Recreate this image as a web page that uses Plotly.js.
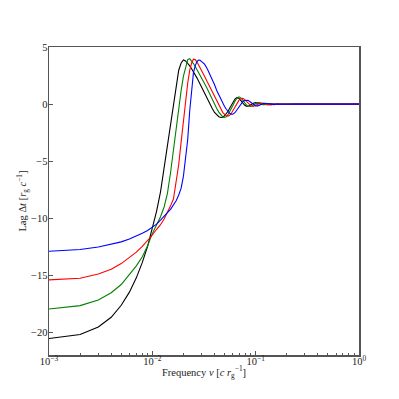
<!DOCTYPE html>
<html>
<head>
<meta charset="utf-8">
<script src="https://cdn.plot.ly/plotly-3.0.1.min.js"></script>
<style>
  html, body { margin: 0; padding: 0; background: #fff; }
  #chart { width: 399px; height: 399px; }
</style>
</head>
<body>
<div id="chart"></div>
<script>
// Lag–frequency spectra, four curves

const freq = [
  0.001, 0.002, 0.003, 0.004, 0.005, 0.006, 0.007, 0.008, 0.009, 0.010,
  0.011, 0.012, 0.013, 0.014, 0.015, 0.016, 0.017, 0.018, 0.019, 0.020,
  0.021, 0.022, 0.023, 0.024, 0.025, 0.026, 0.027, 0.028, 0.029, 0.030,
  0.032, 0.034, 0.036, 0.038, 0.040, 0.042, 0.044, 0.046, 0.048, 0.050,
  0.052, 0.054, 0.056, 0.058, 0.060, 0.063, 0.066, 0.069, 0.072, 0.075,
  0.078, 0.081, 0.084, 0.087, 0.090, 0.095, 0.100, 0.105, 0.110, 0.115,
  0.120, 0.13, 0.14, 0.15, 0.16, 0.18, 0.2, 0.25, 0.3, 0.4,
  0.5, 0.7, 1.0
];

const lagBlack = [
  -20.5, -20.15, -19.5, -18.65, -17.6, -16.45, -15.2, -13.85, -12.45, -10.95,
  -9.36, -7.67, -5.56, -3.55, -1.78, 0.02, 1.65, 2.97, 3.6, 3.86,
  3.78, 3.6, 3.35, 3.1, 2.86, 2.6, 2.3, 2.03, 1.74, 1.48,
  0.97, 0.5, 0.05, -0.38, -0.73, -0.95, -1.1, -1.17, -1.14, -1.02,
  -0.85, -0.62, -0.36, -0.1, 0.15, 0.45, 0.59, 0.5, 0.3, 0.08,
  -0.08, -0.17, -0.18, -0.12, -0.03, 0.08, 0.13, 0.1, 0.03, -0.03,
  -0.05, 0.0, 0.04, 0.0, -0.02, 0.01, 0.0, 0.0, 0.0, 0.0,
  0.0, 0.0, 0.0
];

const lagGreen = [
  -17.92, -17.63, -17.13, -16.5, -15.78, -14.95, -14.15, -13.35, -12.4, -11.33,
  -10.6, -9.85, -9.0, -7.8, -6.0, -3.9, -2.05, -0.3, 1.2, 2.45,
  3.35, 3.9, 3.98, 3.8, 3.55, 3.3, 3.05, 2.8, 2.55, 2.3,
  1.8, 1.35, 0.85, 0.42, 0.0, -0.38, -0.7, -0.95, -1.12, -1.17,
  -1.1, -0.92, -0.68, -0.42, -0.15, 0.25, 0.52, 0.64, 0.55, 0.35,
  0.12, -0.05, -0.17, -0.22, -0.2, -0.08, 0.06, 0.14, 0.12, 0.05,
  -0.02, -0.05, 0.02, 0.03, 0.0, -0.01, 0.0, 0.0, 0.0, 0.0,
  0.0, 0.0, 0.0
];

const lagRed = [
  -15.38, -15.23, -14.87, -14.45, -13.95, -13.45, -12.95, -12.45, -11.95, -11.45,
  -10.95, -10.55, -10.05, -9.5, -8.9, -8.3, -6.9, -5.3, -3.3, -1.45,
  0.35, 1.85, 2.95, 3.6, 3.93, 3.9, 3.7, 3.45, 3.2, 2.95,
  2.45, 1.95, 1.5, 1.05, 0.62, 0.2, -0.15, -0.45, -0.72, -0.9,
  -1.02, -1.05, -0.98, -0.82, -0.6, -0.25, 0.1, 0.35, 0.48, 0.5,
  0.42, 0.28, 0.1, -0.05, -0.15, -0.2, -0.12, 0.0, 0.1, 0.12,
  0.08, -0.05, -0.06, 0.0, 0.04, -0.02, 0.01, 0.0, 0.0, 0.0,
  0.0, 0.0, 0.0
];

const lagBlue = [
  -12.87, -12.72, -12.5, -12.28, -12.05, -11.8, -11.55, -11.3, -11.05, -10.8,
  -10.5, -10.15, -9.85, -9.5, -9.2, -8.85, -8.45, -7.95, -7.35, -6.3,
  -4.9, -3.1, -0.6, 1.5, 2.75, 3.35, 3.72, 3.85, 3.84, 3.72,
  3.5, 3.1, 2.65, 2.2, 1.7, 1.2, 0.8, 0.45, 0.1, -0.2,
  -0.45, -0.65, -0.8, -0.87, -0.88, -0.75, -0.5, -0.2, 0.05, 0.22,
  0.32, 0.35, 0.33, 0.25, 0.14, -0.05, -0.15, -0.15, -0.08, 0.02,
  0.08, 0.05, -0.03, -0.04, 0.0, 0.02, -0.01, 0.0, 0.0, 0.0,
  0.0, 0.0, 0.0
];

const series = [
  { y: lagBlack, color: '#000000' },
  { y: lagGreen, color: '#008000' },
  { y: lagRed, color: '#ff0000' },
  { y: lagBlue, color: '#0000ff' }
];

const xTickVals = [0.001, 0.01, 0.1, 1];
const xTickText = ['10<sup>−3</sup>', '10<sup>−2</sup>', '10<sup>−1</sup>', '10<sup>0</sup>'];
const yTickVals = [5, 0, -5, -10, -15, -20];

// minor log ticks, 2..9 in each decade
const minorVals = [];
[0.001, 0.01, 0.1].forEach(d => {
  for (let k = 2; k <= 9; k++) minorVals.push(k * d);
});

const font = { family: '"Liberation Serif", "DejaVu Serif", serif', size: 10.5, color: '#222222' };
const titleFont = { family: '"Liberation Serif", "DejaVu Serif", serif', size: 10.5, color: '#222222' };

const traces = series.map(s => ({
  x: freq,
  y: s.y,
  type: 'scatter',
  mode: 'lines',
  line: { color: s.color, width: 1.1 },
  hoverinfo: 'skip'
}));

const layout = {
  width: 399,
  height: 399,
  margin: { l: 49, r: 40, t: 47, b: 44 },
  paper_bgcolor: '#fff',
  plot_bgcolor: '#fff',
  showlegend: false,
  font,
  xaxis: {
    type: 'log',
    range: [-3, 0],
    tickvals: xTickVals,
    ticktext: xTickText,
    ticks: 'inside',
    ticklen: 4,
    tickwidth: 1,
    tickcolor: '#555',
    tickfont: font,
    ticklabelstandoff: -4,
    showline: true,
    linecolor: '#555',
    linewidth: 1.5,
    mirror: true,
    showgrid: false,
    zeroline: false,
    minor: { tickvals: minorVals, ticks: 'inside', ticklen: 2, tickcolor: '#555', showgrid: false },
    title: { text: 'Frequency <i>ν</i> [<i>c r</i><sub>g</sub><sup>−1</sup>]', font: titleFont, standoff: 2 }
  },
  yaxis: {
    range: [-21.95, 5],
    tickvals: yTickVals,
    ticks: 'inside',
    ticklen: 4,
    tickwidth: 1,
    tickcolor: '#555',
    tickfont: font,
    ticklabelstandoff: -2,
    showline: true,
    linecolor: '#555',
    linewidth: 1.5,
    mirror: true,
    showgrid: false,
    zeroline: false,
    title: { text: 'Lag Δ<i>t</i> [<i>r</i><sub>g</sub> <i>c</i><sup>−1</sup>]', font: titleFont, standoff: 2 }
  }
};

Plotly.newPlot('chart', traces, layout, { displayModeBar: false, staticPlot: true });
</script>
</body>
</html>
